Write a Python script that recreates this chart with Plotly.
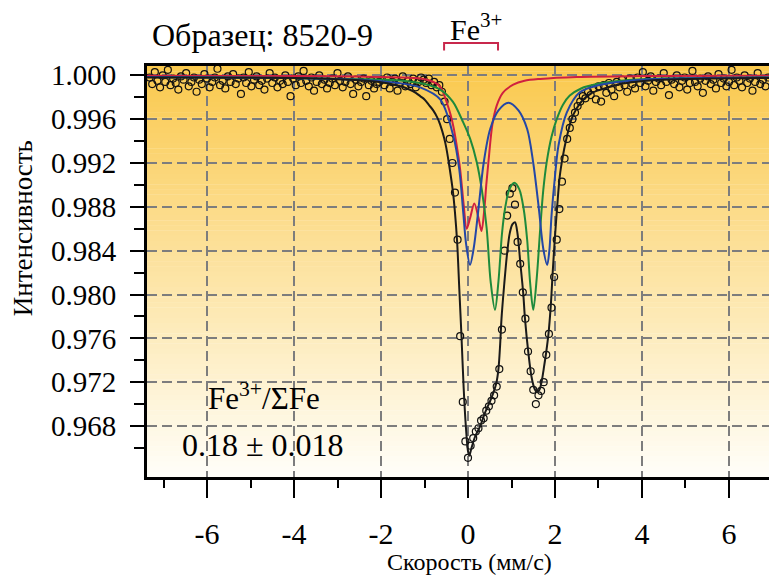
import plotly.graph_objects as go

# ---------------- data ----------------
vel = [
    -7.32, -7.26, -7.20, -7.14, -7.08, -7.02, -6.96, -6.90, -6.84, -6.78,
    -6.72, -6.66, -6.60, -6.54, -6.48, -6.42, -6.36, -6.30, -6.24, -6.18,
    -6.12, -6.06, -6.00, -5.94, -5.88, -5.82, -5.76, -5.70, -5.64, -5.58,
    -5.52, -5.46, -5.40, -5.34, -5.28, -5.22, -5.16, -5.10, -5.04, -4.98,
    -4.92, -4.86, -4.80, -4.74, -4.68, -4.62, -4.56, -4.50, -4.44, -4.38,
    -4.32, -4.26, -4.20, -4.14, -4.08, -4.02, -3.96, -3.90, -3.84, -3.78,
    -3.72, -3.66, -3.60, -3.54, -3.48, -3.42, -3.36, -3.30, -3.24, -3.18,
    -3.12, -3.06, -3.00, -2.94, -2.88, -2.82, -2.76, -2.70, -2.64, -2.58,
    -2.52, -2.46, -2.40, -2.34, -2.28, -2.22, -2.16, -2.10, -2.04,
    -1.98, -1.92, -1.86, -1.80, -1.74, -1.68, -1.62, -1.56, -1.50, -1.44,
    -1.38, -1.32, -1.26, -1.20, -1.14, -1.08, -1.02,
    -0.96, -0.90, -0.84, -0.78, -0.72, -0.66, -0.60, -0.54, -0.48, -0.42,
    -0.36, -0.30, -0.24, -0.18, -0.12, -0.06, 0.00,
    0.06, 0.12, 0.18, 0.24, 0.30, 0.36, 0.42, 0.48, 0.54, 0.60,
    0.66, 0.72, 0.78, 0.84, 0.90, 0.96, 1.02,
    1.08, 1.14, 1.20, 1.26, 1.32, 1.38, 1.44, 1.50, 1.56, 1.62,
    1.68, 1.74, 1.80, 1.86, 1.92, 1.98, 2.04,
    2.10, 2.16, 2.22, 2.28, 2.34, 2.40, 2.46, 2.52, 2.58, 2.64,
    2.70, 2.76, 2.82, 2.88, 2.94, 3.00, 3.06, 3.12, 3.18, 3.24,
    3.30, 3.36, 3.42, 3.48, 3.54, 3.60, 3.66, 3.72, 3.78,
    3.84, 3.90, 3.96, 4.02, 4.08, 4.14, 4.20, 4.26, 4.32, 4.38,
    4.44, 4.50, 4.56, 4.62, 4.68, 4.74, 4.80, 4.86, 4.92, 4.98,
    5.04, 5.10, 5.16, 5.22, 5.28, 5.34, 5.40, 5.46, 5.52, 5.58,
    5.64, 5.70, 5.76, 5.82, 5.88, 5.94, 6.00, 6.06, 6.12, 6.18,
    6.24, 6.30, 6.36, 6.42, 6.48, 6.54, 6.60, 6.66, 6.72, 6.78,
    6.84, 6.90,
]
intensity = [
    0.99980, 0.99920, 1.00030, 0.99950, 0.99890, 1.00000, 0.99940, 1.00050, 0.99910, 0.99970,
    0.99930, 0.99870, 0.99990, 0.99960, 1.00020, 0.99900, 0.99940, 0.99980, 0.99850, 0.99960,
    0.99920, 1.00010, 0.99970, 0.99890, 0.99940, 0.99980, 1.00060, 0.99910, 0.99950, 0.99880,
    0.99990, 0.99940, 1.00010, 0.99920, 0.99970, 0.99830, 0.99980, 0.99930, 1.00030, 0.99900,
    0.99960, 0.99990, 0.99910, 0.99950, 0.99870, 0.99970, 1.00020, 0.99930, 0.99980, 0.99890,
    0.99950, 0.99920, 1.00000, 0.99940, 0.99810, 0.99970, 0.99910, 0.99990, 0.99930, 1.00040,
    0.99950, 0.99900, 0.99980, 0.99860, 0.99940, 1.00000, 0.99920, 0.99960, 0.99880, 0.99930,
    0.99970, 0.99910, 1.00020, 0.99950, 0.99890, 0.99940, 0.99990, 0.99920, 0.99830, 0.99960,
    0.99900, 0.99940, 0.99970, 0.99810, 0.99910, 0.99950, 0.99880, 0.99920, 0.99940,
    0.99960, 0.99910, 0.99980, 0.99880, 0.99940, 0.99970, 0.99860, 0.99930, 0.99990, 0.99900,
    0.99950, 0.99920, 0.99970, 0.99890, 0.99940, 0.99980, 0.99960,
    0.99930, 0.99970, 0.99910, 0.99940, 0.99890, 0.99910, 0.99850, 0.99760, 0.99600, 0.99420,
    0.99200, 0.98930, 0.98500, 0.97620, 0.97020, 0.96660, 0.96510,
    0.96620, 0.96690, 0.96750, 0.96780, 0.96850, 0.96870, 0.96940, 0.96980, 0.97030, 0.97080,
    0.97160, 0.97320, 0.97680, 0.98400, 0.98720, 0.98920, 0.98970,
    0.98820, 0.98480, 0.98280, 0.98020, 0.97780, 0.97480, 0.97300, 0.97130, 0.97000, 0.97080,
    0.97120, 0.97200, 0.97450, 0.97640, 0.97880, 0.98160, 0.98500,
    0.98780, 0.99030, 0.99240, 0.99420, 0.99520, 0.99600, 0.99660, 0.99720, 0.99760, 0.99810,
    0.99790, 0.99850, 0.99820, 0.99880, 0.99780, 0.99900, 0.99760, 0.99910, 0.99840, 0.99930,
    0.99870, 0.99810, 0.99940, 0.99890, 0.99960, 0.99910, 0.99850, 0.99970, 0.99920,
    0.99880, 0.99980, 0.99930, 1.00030, 0.99900, 0.99950, 0.99990, 0.99860, 0.99940, 0.99970,
    0.99910, 1.00020, 0.99940, 0.99820, 0.99960, 0.99920, 1.00000, 0.99890, 0.99950, 0.99980,
    0.99870, 0.99930, 1.00040, 0.99940, 0.99900, 0.99970, 0.99840, 0.99950, 0.99990, 0.99920,
    0.99960, 0.99880, 1.00010, 0.99930, 0.99970, 0.99900, 0.99940, 1.00050, 0.99910, 0.99980,
    0.99950, 0.99890, 1.00000, 0.99930, 0.99970, 0.99860, 0.99940, 1.00020, 0.99920, 0.99960,
    0.99900, 0.99980,
]

fit_x = [-7.38, -5.0, -4.0, -3.0, -2.5, -2.0, -1.6, -1.4, -1.2, -1.1, -1.0, -0.9, -0.8,
         -0.7, -0.64, -0.55, -0.5, -0.41, -0.35, -0.30, -0.25, -0.20, -0.15, -0.10, -0.05,
         0.00, 0.03, 0.08, 0.16, 0.28, 0.39, 0.50, 0.58, 0.65, 0.70, 0.74, 0.77, 0.83,
         0.90, 0.96, 1.02, 1.08, 1.14, 1.20, 1.27, 1.31, 1.39, 1.46, 1.53, 1.58, 1.64,
         1.70, 1.74, 1.80, 1.85, 1.90, 1.95, 2.00, 2.05, 2.11, 2.18, 2.25, 2.38, 2.50,
         2.65, 2.85, 3.10, 3.40, 3.72, 4.50, 5.50, 6.92]
fit_y = [0.99980, 0.99978, 0.99975, 0.99965, 0.99955, 0.99936, 0.99905, 0.99880, 0.99840,
         0.99810, 0.99780, 0.99730, 0.99680, 0.99610, 0.99550, 0.99430, 0.99340, 0.99120,
         0.98950, 0.98750, 0.98480, 0.98050, 0.97620, 0.97150, 0.96800, 0.96570, 0.96530,
         0.96600, 0.96700, 0.96800, 0.96920, 0.97020, 0.97100, 0.97190, 0.97320, 0.97550,
         0.97780, 0.98080, 0.98380, 0.98560, 0.98640, 0.98660, 0.98550, 0.98300, 0.98010,
         0.97780, 0.97460, 0.97250, 0.97140, 0.97110, 0.97130, 0.97220, 0.97320, 0.97480,
         0.97640, 0.97880, 0.98220, 0.98530, 0.98800, 0.99080, 0.99260, 0.99400, 0.99600,
         0.99700, 0.99780, 0.99840, 0.99875, 0.99910, 0.99935, 0.99960, 0.99970, 0.99975]

red_x = [-7.38, -4.0, -2.5, -1.5, -1.0, -0.7, -0.6, -0.49, -0.40, -0.33, -0.26, -0.18,
         -0.10, -0.03, 0.05, 0.145, 0.24, 0.31, 0.38, 0.42, 0.47, 0.56, 0.66, 0.80, 1.04,
         1.3, 1.66, 2.5, 4.0, 6.92]
red_y = [0.99997, 0.99994, 0.99990, 0.99980, 0.99965, 0.99920, 0.99870, 0.99754, 0.99640,
         0.99520, 0.99360, 0.99140, 0.98820, 0.98600, 0.98700, 0.98830, 0.98700, 0.98580,
         0.98800, 0.99000, 0.99210, 0.99550, 0.99724, 0.99840, 0.99914, 0.99950, 0.99967,
         0.99985, 0.99993, 0.99997]

blue_x = [-7.38, -4.0, -2.5, -1.6, -1.1, -0.64, -0.34, -0.2, -0.11, -0.04, 0.046, 0.13,
          0.24, 0.36, 0.51, 0.7, 0.93, 1.16, 1.36, 1.50, 1.63, 1.73, 1.82, 1.87, 1.92,
          2.0, 2.08, 2.27, 2.57, 3.0, 4.0, 5.5, 6.92]
blue_y = [0.99985, 0.99975, 0.99960, 0.99930, 0.99890, 0.99780, 0.99450, 0.99140, 0.98750,
          0.98450, 0.98270, 0.98420, 0.98780, 0.99200, 0.99510, 0.99680, 0.99750, 0.99680,
          0.99510, 0.99200, 0.98780, 0.98420, 0.98270, 0.98400, 0.98720, 0.99080, 0.99360,
          0.99660, 0.99845, 0.99910, 0.99960, 0.99975, 0.99980]

green_x = [-7.38, -4.0, -2.5, -1.5, -1.0, -0.64, -0.35, -0.11, 0.05, 0.2, 0.32, 0.43, 0.52,
           0.62, 0.70, 0.78, 0.85, 0.95, 1.065, 1.18, 1.28, 1.36, 1.43, 1.50, 1.58, 1.66,
           1.73, 1.81, 1.92, 2.04, 2.18, 2.34, 2.6, 2.96, 3.5, 4.5, 6.92]
green_y = [0.99985, 0.99975, 0.99965, 0.99950, 0.99920, 0.99870, 0.99760, 0.99570, 0.99420,
           0.99210, 0.98950, 0.98600, 0.98120, 0.97860, 0.98120, 0.98550, 0.98780, 0.98960,
           0.99020, 0.98960, 0.98780, 0.98500, 0.98100, 0.97860, 0.98150, 0.98600, 0.98950,
           0.99210, 0.99440, 0.99600, 0.99730, 0.99815, 0.99880, 0.99920, 0.99950, 0.99970,
           0.99980]

x_ticks = [-6, -4, -2, 0, 2, 4, 6]
x_tick_labels = ["-6", "-4", "-2", "0", "2", "4", "6"]
x_minor = [-7, -5, -3, -1, 1, 3, 5]
y_ticks = [0.968, 0.972, 0.976, 0.980, 0.984, 0.988, 0.992, 0.996, 1.000]
y_tick_labels = ["0.968", "0.972", "0.976", "0.980", "0.984", "0.988", "0.992", "0.996", "1.000"]
y_minor = [0.966, 0.970, 0.974, 0.978, 0.982, 0.986, 0.990, 0.994, 0.998]

assert len(vel) == len(intensity)
assert len(fit_x) == len(fit_y)
assert len(red_x) == len(red_y)
assert len(blue_x) == len(blue_y)
assert len(green_x) == len(green_y)

FONT = "Liberation Serif"

fig = go.Figure()

fig.add_trace(go.Scatter(
    x=vel, y=intensity, mode="markers",
    marker=dict(symbol="circle-open", size=7, color="#111111", line=dict(width=1.2, color="#111111")),
    showlegend=False, hoverinfo="skip"))

for xs, ys, col in [(red_x, red_y, "#d0203f"), (green_x, green_y, "#1e8a3c"), (blue_x, blue_y, "#2447a6")]:
    fig.add_trace(go.Scatter(x=xs, y=ys, mode="lines",
                             line=dict(color=col, width=2, shape="spline", smoothing=0.9),
                             showlegend=False, hoverinfo="skip"))

fig.add_trace(go.Scatter(x=fit_x, y=fit_y, mode="lines",
                         line=dict(color="#1a1a1a", width=2, shape="spline", smoothing=0.9),
                         showlegend=False, hoverinfo="skip"))

# background vertical gradient (orange-yellow at top to white at bottom)
shapes = []
n_bands = 80
top = (250, 201, 78)
bot = (255, 254, 248)
for i in range(n_bands):
    t = i / (n_bands - 1)
    c = tuple(round(top[j] + (bot[j] - top[j]) * t) for j in range(3))
    y1 = 1 - i / n_bands
    y0 = 1 - (i + 1) / n_bands
    shapes.append(dict(type="rect", xref="paper", yref="paper", x0=0, x1=1, y0=y0 - 0.001, y1=y1,
                       fillcolor="rgb(%d,%d,%d)" % c, line=dict(width=0), layer="below"))

# red bracket under Fe3+
shapes.append(dict(type="path", xref="x", yref="paper",
                   path="M -0.55,1.038 L -0.55,1.056 L 0.69,1.056 L 0.69,1.038",
                   line=dict(color="#c8284c", width=2)))

fig.update_layout(
    width=769, height=577, autosize=False,
    margin=dict(l=147, r=0, t=66, b=100),
    paper_bgcolor="white", plot_bgcolor="white",
    shapes=shapes,
    font=dict(family=FONT, color="black"),
    xaxis=dict(range=[-7.38, 6.92], tickmode="array", tickvals=x_ticks, ticktext=x_tick_labels,
               ticks="outside", ticklen=18, tickwidth=1.5, tickcolor="black",
               showline=True, linewidth=3, linecolor="black", mirror=True,
               showgrid=True, gridcolor="#7d7d7d", gridwidth=1.6, griddash="10px,5px",
               zeroline=False, tickfont=dict(family=FONT, size=30, color="black"),
               ticklabelstandoff=10,
               minor=dict(tickmode="array", tickvals=x_minor, ticks="outside", ticklen=8,
                          tickwidth=1.5, tickcolor="black", showgrid=False)),
    yaxis=dict(range=[0.96335, 1.00085], tickmode="array", tickvals=y_ticks, ticktext=y_tick_labels,
               ticks="outside", ticklen=14, tickwidth=1.5, tickcolor="black",
               showline=True, linewidth=3, linecolor="black", mirror=False,
               showgrid=True, gridcolor="#7d7d7d", gridwidth=1.6, griddash="10px,5px",
               zeroline=False, tickfont=dict(family=FONT, size=29, color="black"),
               ticklabelstandoff=8,
               minor=dict(tickmode="array", tickvals=y_minor, ticks="outside", ticklen=10,
                          tickwidth=1.5, tickcolor="black", showgrid=False)),
    annotations=[
        dict(text="Образец: 8520-9", xref="paper", yref="paper", x=0.185, y=1.075,
             xanchor="center", yanchor="middle", showarrow=False, font=dict(family=FONT, size=32)),
        dict(text="Fe<sup>3+</sup>", xref="paper", yref="paper", x=0.529, y=1.096,
             xanchor="center", yanchor="middle", showarrow=False, font=dict(family=FONT, size=30)),
        dict(text="Fe<sup>3+</sup>/ΣFe", xref="paper", yref="paper", x=0.188, y=0.195,
             xanchor="center", yanchor="middle", showarrow=False, font=dict(family=FONT, size=31)),
        dict(text="0.18 ± 0.018", xref="paper", yref="paper", x=0.1865, y=0.077,
             xanchor="center", yanchor="middle", showarrow=False, font=dict(family=FONT, size=32)),
        dict(text="Интенсивность", xref="paper", yref="paper", x=-0.199, y=0.606,
             xanchor="center", yanchor="middle", textangle=-90, showarrow=False,
             font=dict(family=FONT, size=27)),
        dict(text="Скорость (мм/с)", xref="paper", yref="paper", x=0.519, y=-0.207,
             xanchor="center", yanchor="middle", showarrow=False, font=dict(family=FONT, size=24)),
    ],
)

fig.write_html("out.html")
